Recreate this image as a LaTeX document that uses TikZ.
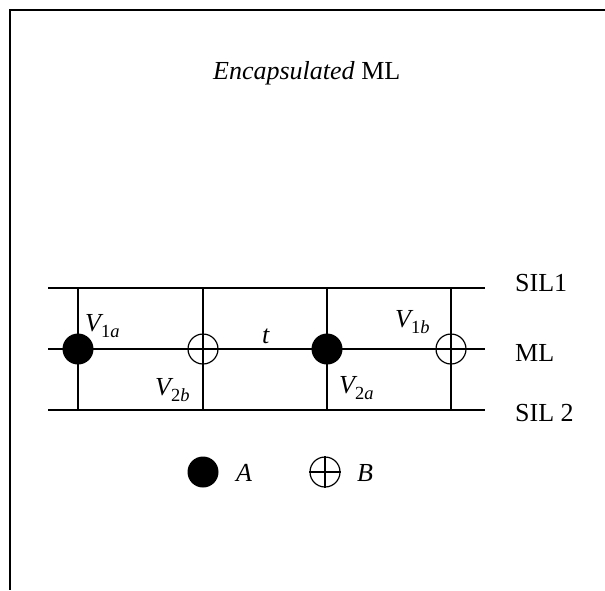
\documentclass[tikz,border=0pt]{standalone}
\usepackage{fontspec}
\setmainfont{Liberation Serif}
\newcommand\vlab[2]{\textit{V}\kern-0.09em\raisebox{-0.25em}{\fontsize{18.5}{20}\selectfont #1\textit{#2}}}
\begin{document}
\begin{tikzpicture}[x=1pt,y=-1pt,
  font=\fontsize{26}{30}\selectfont,
  frame/.style={line width=2pt},
  bar/.style={line width=2.2pt},
  rule/.style={line width=1.1pt},
  fdot/.style={circle,fill=black,minimum size=31pt,inner sep=0pt},
  odot/.style={circle,draw,line width=1.2pt,minimum size=30pt,inner sep=0pt},
  lbl/.style={anchor=base west,inner sep=0pt}]
\useasboundingbox (0,0) rectangle (605,590);
% frame (open at right and bottom)
\coordinate (fr) at (605,10);
\coordinate (fc) at (10,10);
\coordinate (fb) at (10,590);
\draw[frame] (fr) -- (fc) -- (fb);
% title
\node[lbl] (title) at (213,79) {\textit{Encapsulated} ML};
% horizontal lines
\coordinate (s1l) at (48,288); \coordinate (s1r) at (485,288);
\coordinate (mll) at (48,349); \coordinate (mlr) at (485,349);
\coordinate (s2l) at (48,410); \coordinate (s2r) at (485,410);
\draw[bar] (s1l) -- (s1r);
\draw[bar] (s2l) -- (s2r);
\draw[rule] (mll) -- (mlr);
% verticals
\foreach \i/\x in {1/78,2/203,3/327,4/451}{
  \coordinate (t\i) at (\x,288);
  \coordinate (b\i) at (\x,410);
  \draw[rule] (t\i) -- (b\i);
}
% vertices
\node[fdot] (v1a) at (78,349) {};
\node[odot] (v2b) at (203,349) {};
\node[fdot] (v2a) at (327,349) {};
\node[odot] (v1b) at (451,349) {};
% labels
\node[lbl] (l1a) at (85,331) {\vlab{1}{a}};
\node[lbl] (l2b) at (155,395) {\vlab{2}{b}};
\node[lbl] (lt) at (262,343) {\textit{t}};
\node[lbl] (l1b) at (395,327) {\vlab{1}{b}};
\node[lbl] (l2a) at (339,393) {\vlab{2}{a}};
% line names
\node[lbl] (sil1) at (515,291) {SIL1};
\node[lbl] (ml) at (515,361) {ML};
\node[lbl] (sil2) at (515,421) {SIL 2};
% legend
\node[fdot] (kA) at (203,472) {};
\node[lbl] (tA) at (236,481) {\textit{A}};
\node[odot] (kB) at (325,472) {};
\draw[line width=1.2pt] (kB.north) -- (kB.south) (kB.west) -- (kB.east);
\node[lbl] (tB) at (357,481) {\textit{B}};
\end{tikzpicture}
\end{document}
